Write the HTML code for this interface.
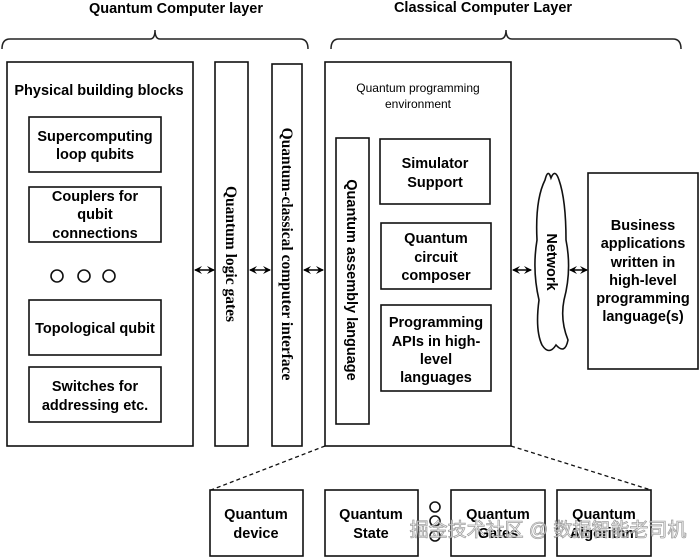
<!DOCTYPE html>
<html><head><meta charset="utf-8"><style>
html,body{margin:0;padding:0;background:#fff;}
svg{display:block;}
text{font-family:"Liberation Sans",sans-serif;fill:#000;}
.b{font-weight:bold;font-size:14.5px;}
.s{font-family:"Liberation Serif",serif;font-weight:bold;font-size:15.5px;}
</style></head><body>
<svg width="700" height="558" viewBox="0 0 700 558" xmlns="http://www.w3.org/2000/svg">
<defs>
<marker id="a" markerWidth="8" markerHeight="8" refX="7" refY="4" orient="auto-start-reverse" markerUnits="userSpaceOnUse">
<path d="M0,0 L8,4 L0,8 L3,4 Z" fill="#000"/></marker>
</defs>
<g fill="none" stroke="#222" stroke-width="1.5">
<path d="M2,49 Q2,39 10,39 L150,39 Q155,39 155,30 Q155,39 160,39 L300,39 Q308,39 308,49"/>
<path d="M331,49 Q331,39 339,39 L500,39 Q506,39 506,30 Q506,39 512,39 L673,39 Q681,39 681,49"/>
</g>
<g fill="none" stroke="#111" stroke-width="1.6">
<rect x="7" y="62" width="186" height="384"/>
<rect x="215" y="62" width="33" height="384"/>
<rect x="272" y="64" width="30" height="382"/>
<rect x="325" y="62" width="186" height="384"/>
<rect x="29" y="117" width="132" height="55"/>
<rect x="29" y="187" width="132" height="55"/>
<rect x="29" y="300" width="132" height="55"/>
<rect x="29" y="367" width="132" height="55"/>
<circle cx="57" cy="276" r="6"/><circle cx="84" cy="276" r="6"/><circle cx="109" cy="276" r="6"/>
<rect x="336" y="138" width="33" height="286"/>
<rect x="380" y="139" width="110" height="65"/>
<rect x="381" y="223" width="110" height="66"/>
<rect x="381" y="305" width="110" height="86"/>
<rect x="588" y="173" width="110" height="196"/>
<path d="M545,180 Q548,168 551,178 Q555,168 559,180 Q566,200 566,240 Q572,270 564,300 Q560,320 568,340 Q565,355 556,345 Q549,356 542,345 Q535,330 539,300 Q532,270 537,240 Q535,200 545,180 Z"/>
<rect x="210" y="490" width="93" height="66"/>
<rect x="325" y="490" width="93" height="66"/>
<rect x="451" y="490" width="94" height="66"/>
<rect x="557" y="490" width="94" height="66"/>
<circle cx="435" cy="507" r="5"/><circle cx="435" cy="521" r="5"/><circle cx="435" cy="536" r="5"/>
<path d="M325,446 L211,490" stroke-dasharray="4,3" stroke-width="1.3"/>
<path d="M511,446 L651,490" stroke-dasharray="4,3" stroke-width="1.3"/>
</g>
<g stroke="#000" stroke-width="1.6" marker-start="url(#a)" marker-end="url(#a)">
<line x1="195" y1="270" x2="214" y2="270"/>
<line x1="250" y1="270" x2="270" y2="270"/>
<line x1="304" y1="270" x2="323" y2="270"/>
<line x1="513" y1="270" x2="531" y2="270"/>
<line x1="570" y1="270" x2="587" y2="270"/>
</g>
<text class="b" x="176" y="13" text-anchor="middle">Quantum Computer layer</text>
<text class="b" x="483" y="12" text-anchor="middle">Classical Computer Layer</text>
<text class="b" x="99" y="95" text-anchor="middle" font-size="14px">Physical building blocks</text>
<g class="b" text-anchor="middle">
<text x="95" y="141">Supercomputing</text><text x="95" y="159">loop qubits</text>
<text x="95" y="201">Couplers for</text><text x="95" y="219">qubit</text><text x="95" y="238">connections</text>
<text x="95" y="333">Topological qubit</text>
<text x="95" y="391">Switches for</text><text x="95" y="410">addressing etc.</text>
<text x="435" y="168">Simulator</text><text x="435" y="187">Support</text>
<text x="436" y="243">Quantum</text><text x="436" y="262">circuit</text><text x="436" y="280">composer</text>
<text x="436" y="327">Programming</text><text x="436" y="346">APIs in high-</text><text x="436" y="364">level</text><text x="436" y="382">languages</text>
<text x="643" y="230">Business</text><text x="643" y="248">applications</text><text x="643" y="267">written in</text><text x="643" y="285">high-level</text><text x="643" y="303">programming</text><text x="643" y="321">language(s)</text>
<text x="256" y="519">Quantum</text><text x="256" y="538">device</text>
<text x="371" y="519">Quantum</text><text x="371" y="538">State</text>
<text x="498" y="519">Quantum</text><text x="498" y="538">Gates</text>
<text x="604" y="519">Quantum</text><text x="604" y="538">Algorithm</text>
</g>
<text x="418" y="92" text-anchor="middle" font-size="12px">Quantum programming</text>
<text x="418" y="108" text-anchor="middle" font-size="12px">environment</text>
<text class="s" transform="translate(226,254) rotate(90)" text-anchor="middle">Quantum logic gates</text>
<text class="s" transform="translate(282,254) rotate(90)" text-anchor="middle">Quantum-classical computer interface</text>
<text class="b" transform="translate(347,280) rotate(90)" text-anchor="middle" font-size="15px">Quantum assembly language</text>
<text class="b" transform="translate(547,262) rotate(90)" text-anchor="middle" font-size="13px">Network</text>
<text x="548" y="536" text-anchor="middle" font-size="19px" style="font-family:'Liberation Sans','Noto Sans CJK SC',sans-serif;fill:rgba(255,255,255,0.75);stroke:rgba(120,120,120,0.7);stroke-width:0.8">掘金技术社区 @ 数据智能老司机</text>
</svg>
</body></html>
